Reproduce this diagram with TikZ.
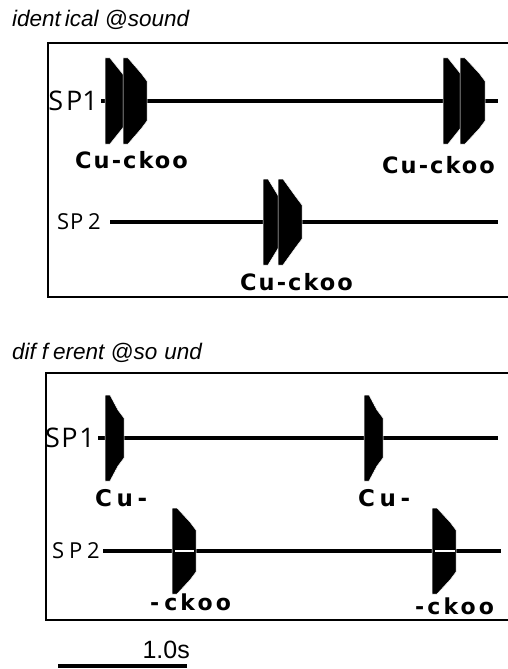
\documentclass[tikz,border=0pt]{standalone}
\usepackage{fontspec}
\setmainfont{Liberation Sans}
\newfontfamily\spfont{Open Sans}
\newfontfamily\sylfont{DejaVu Sans}
% one call-note envelope: flat top, sloping shoulder, flat front, mirrored below
\newcommand\burst[4]{%
  \fill[burstfill] (#1,#2-43) -- (#1+5,#2-43) -- (#1+#3-6,#2-#4-8) -- (#1+#3,#2-#4)
    -- (#1+#3,#2+#4) -- (#1+#3-6,#2+#4+8) -- (#1+5,#2+43) -- (#1,#2+43) -- cycle;}
\begin{document}
\begin{tikzpicture}[x=1pt,y=-1pt,
  frame/.style={draw,line width=2.6pt},
  track/.style={line width=4pt},
  burstfill/.style={fill=black,draw=white,line width=0.5pt},
  gapline/.style={draw=white,line width=1.5pt},
  title/.style={anchor=base west,inner sep=0pt,font=\itshape\fontsize{22.5}{24}\selectfont},
  spbig/.style={anchor=east,inner sep=3pt,font=\spfont\fontsize{27}{28}\selectfont},
  spsmall/.style={anchor=east,inner sep=0pt,font=\spfont\fontsize{22}{23}\selectfont\addfontfeature{LetterSpace=22}},
  syl/.style={anchor=base west,inner sep=0pt,font=\sylfont\bfseries\fontsize{22.5}{24}\selectfont\addfontfeature{LetterSpace=9}},
  sylbig/.style={syl,font=\sylfont\bfseries\fontsize{23}{24}\selectfont\addfontfeature{LetterSpace=20}},
  sylend/.style={syl,font=\sylfont\bfseries\fontsize{22}{24}\selectfont\addfontfeature{LetterSpace=14}},
  bar/.style={line width=3.5pt},
  scalelabel/.style={anchor=base east,inner sep=0pt,font=\fontsize{25}{26}\selectfont}]
\useasboundingbox (0,0) rectangle (507,669);
\fill[white] (0,0) rectangle (507,669);

% ---------- identical sound ----------
\node[title] (t1) at (12,27) {ident\kern4pt ical @sound};
\draw[frame] (48,43) rectangle (512,297);

\node[spbig] (a1) at (101,101) {S\kern3pt P1};
\coordinate (a1end) at (498,101);
\draw[track] (a1.east) -- (a1end);
\burst{105}{101}{23}{20}
\burst{123}{101}{24}{20}
\burst{443}{101}{23}{20}
\burst{460}{101}{25}{20}

\node[spsmall] (a2) at (101,222) {S\kern1pt P2};
\coordinate (a2end) at (498,222);
\draw[track,shorten <=9pt] (a2.east) -- (a2end);
\burst{263}{222}{22}{17}
\burst{278}{222}{24}{17}

\node[syl] (c1) at (75,168) {Cu-ckoo};
\node[syl] (c2) at (382,173) {Cu-ckoo};
\node[syl] (c3) at (240,290) {Cu-ckoo};

% ---------- different sound ----------
\node[title] (t2) at (12,359) {dif\kern6pt f\kern5pt erent @so\kern7pt und};
\draw[frame] (46,373) rectangle (512,620);

\node[spbig,font=\spfont\fontsize{27}{28}\selectfont\addfontfeature{LetterSpace=6}] (b1) at (98,438) {SP1};
\coordinate (b1end) at (498,438);
\draw[track] (b1.east) -- (b1end);
\burst{105}{438}{19}{20}
\burst{364}{438}{19}{20}

\node[spsmall] (b2) at (100,551) {SP2};
\coordinate (b2end) at (501,551);
\draw[track,shorten <=3pt] (b2.east) -- (b2end);
\burst{172}{551}{24}{21}
\burst{432}{551}{24}{21}
\draw[gapline] (175,551) -- (194,551);
\draw[gapline] (435,551) -- (455,551);

\node[sylbig] (d1) at (95,506) {Cu-};
\node[sylbig] (d2) at (358,506) {Cu-};
\node[sylend] (e1) at (150,610) {-\kern5pt ckoo};
\node[sylend] (e2) at (415,614) {-ckoo};

% ---------- scale bar ----------
\coordinate (barL) at (58,666);
\coordinate (barR) at (187,666);
\draw[bar] (barL) -- (barR);
\node[scalelabel] (bartext) at (190,658) {1.0s};
\end{tikzpicture}
\end{document}
